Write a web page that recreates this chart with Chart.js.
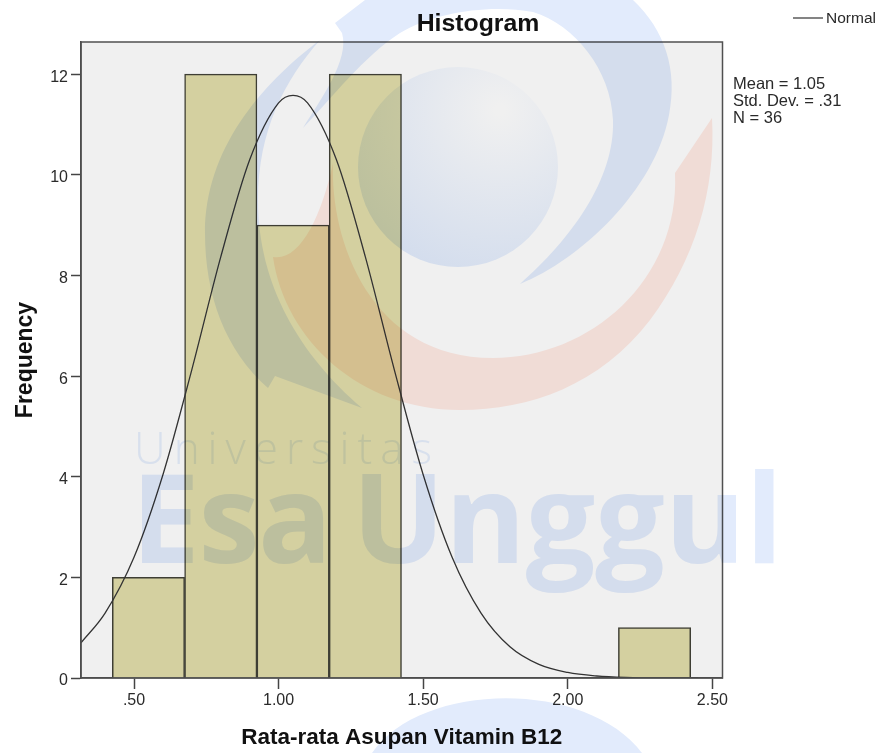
<!DOCTYPE html>
<html>
<head>
<meta charset="utf-8">
<style>
html, body { margin: 0; padding: 0; background: #fff; }
#wrap { width: 880px; height: 753px; }
</style>
<script src="https://cdn.jsdelivr.net/npm/chart.js@4"></script>
</head>
<body>
<div id="wrap"><canvas id="myChart" width="880" height="753"></canvas></div>
<script>
var binCenters = [0.55, 0.80, 1.05, 1.30, 2.30];
var binCounts = [2, 12, 9, 12, 1];
var curveX = [0.3167, 0.40, 0.50, 0.60, 0.70, 0.80, 0.90, 1.00, 1.05, 1.10, 1.20, 1.30, 1.40, 1.50, 1.60, 1.70, 1.80, 1.90, 2.00, 2.10, 2.20, 2.30, 2.45];
var curveY = [0.70, 1.29, 2.40, 4.04, 6.13, 8.37, 10.3, 11.43, 11.58, 11.43, 10.3, 8.37, 6.13, 4.04, 2.40, 1.29, 0.62, 0.27, 0.11, 0.04, 0.01, 0, 0];
var xTicks = [0.5, 1.0, 1.5, 2.0, 2.5];
var statLines = ['Mean = 1.05', 'Std. Dev. = .31', 'N = 36'];

var FONT = '"Liberation Sans", Arial, sans-serif';
var INK = '#2a2a2a';
var EDGE = '#3e3e34';

function pairs(xs, ys) {
    return xs.map(function (x, i) { return { x: x, y: ys[i] }; });
}

// plot background, frame, SPSS style legend and stats text
var spssFrame = {
    id: 'spssFrame',
    afterLayout: function (chart) {
        // title is centred on 478, not over the plot
        chart.titleBlock.left = 76;
        chart.titleBlock.right = 880;
    },
    beforeDraw: function (chart) {
        var a = chart.chartArea, c = chart.ctx;
        c.save();
        c.fillStyle = '#f0f0f0';
        c.fillRect(a.left, a.top, a.right - a.left, a.bottom - a.top);
        c.restore();
        // y labels sit a little under their ticks in the original
        if (!chart.$labelsMoved) {
            chart.scales.y.getLabelItems().forEach(function (item) {
                item.options.translation[1] += 3;
            });
            chart.$labelsMoved = true;
        }
    },
    afterDatasetsDraw: function (chart) {
        var a = chart.chartArea, c = chart.ctx;
        c.save();
        c.strokeStyle = '#505050';
        c.lineWidth = 1.5;
        c.strokeRect(a.left, a.top, a.right - a.left, a.bottom - a.top);
        c.fillStyle = INK;
        c.font = '16.5px ' + FONT;
        c.textBaseline = 'middle';
        statLines.forEach(function (s, i) {
            c.fillText(s, 733, 84 + i * 17);
        });
        c.strokeStyle = '#333';
        c.lineWidth = 1.2;
        c.beginPath();
        c.moveTo(793, 18);
        c.lineTo(823, 18);
        c.stroke();
        c.font = '15.5px ' + FONT;
        c.fillText('Normal', 826, 19);
        c.restore();
    }
};

// the university watermark laid over the whole page
var watermark = {
    id: 'watermark',
    afterDraw: function (chart) {
        var c = chart.ctx;
        c.save();
        c.globalCompositeOperation = 'multiply';

        // big blue sweep running off the top
        c.fillStyle = '#e2ebfc';
        c.beginPath();
        c.moveTo(335, 23);
        c.lineTo(365, 0);
        c.lineTo(633, 0);
        c.bezierCurveTo(665, 30, 678, 70, 669, 115);
        c.bezierCurveTo(655, 190, 580, 260, 520, 284);
        c.bezierCurveTo(570, 240, 615, 180, 613, 120);
        c.bezierCurveTo(611, 70, 575, 25, 533, 12);
        c.bezierCurveTo(490, 4, 435, 12, 400, 33);
        c.bezierCurveTo(365, 55, 330, 100, 303, 128);
        c.bezierCurveTo(320, 100, 350, 60, 342, 33);
        c.closePath();
        c.fill();

        // left crescent
        c.beginPath();
        c.moveTo(320, 40);
        c.bezierCurveTo(285, 80, 258, 130, 258, 200);
        c.bezierCurveTo(258, 285, 300, 355, 362, 408);
        c.lineTo(275, 376);
        c.lineTo(268, 388);
        c.bezierCurveTo(225, 350, 205, 295, 205, 233);
        c.bezierCurveTo(205, 150, 260, 85, 320, 40);
        c.closePath();
        c.fill();

        // sphere
        var g = c.createRadialGradient(500, 110, 5, 500, 110, 170);
        g.addColorStop(0, '#ffffff');
        g.addColorStop(1, '#e1ebfc');
        c.fillStyle = g;
        c.beginPath();
        c.arc(458, 167, 100, 0, Math.PI * 2);
        c.fill();

        // orange crescent
        c.fillStyle = '#ffeae4';
        c.beginPath();
        c.moveTo(712, 118);
        c.bezierCurveTo(716, 190, 695, 260, 650, 320);
        c.bezierCurveTo(600, 385, 530, 410, 460, 410);
        c.bezierCurveTo(360, 410, 285, 340, 273, 257);
        c.bezierCurveTo(300, 262, 322, 215, 333, 163);
        c.bezierCurveTo(330, 240, 370, 358, 493, 358);
        c.bezierCurveTo(590, 358, 680, 280, 675, 173);
        c.closePath();
        c.fill();

        // bottom blob
        c.fillStyle = '#e2ebfc';
        c.beginPath();
        c.moveTo(372, 753);
        c.bezierCurveTo(420, 682, 585, 678, 642, 753);
        c.closePath();
        c.fill();

        // wordmark
        c.textBaseline = 'alphabetic';
        c.fillStyle = '#e6eefc';
        c.font = '300 44px "Open Sans", sans-serif';
        c.letterSpacing = '8px';
        c.fillText('Universitas', 134, 464);
        c.fillStyle = '#e2ebfc';
        c.font = '700 123px "Open Sans", sans-serif';
        c.letterSpacing = '-1.5px';
        c.fillText('Esa', 131, 563);
        c.letterSpacing = '0px';
        c.fillText('Unggul', 352, 563);
        c.restore();
    }
};

var ctx = document.getElementById('myChart').getContext('2d');
var myChart = new Chart(ctx, {
    data: {
        datasets: [{
            type: 'line',
            label: 'Normal',
            data: pairs(curveX, curveY),
            borderColor: '#333',
            borderWidth: 1.3,
            pointRadius: 0,
            cubicInterpolationMode: 'monotone',
            order: 1
        }, {
            type: 'bar',
            label: 'Frequency',
            data: pairs(binCenters, binCounts),
            backgroundColor: '#d4d0a0',
            borderColor: EDGE,
            borderWidth: 1.5,
            barPercentage: 1,
            categoryPercentage: 1,
            grouped: false,
            order: 2
        }]
    },
    options: {
        responsive: false,
        animation: false,
        layout: {
            padding: { left: 0, right: 157.5, top: 0, bottom: 0 }
        },
        plugins: {
            legend: { display: false },
            tooltip: { enabled: false },
            title: {
                display: true,
                text: 'Histogram',
                color: '#111',
                font: { family: FONT, size: 24.8, weight: 'bold', lineHeight: 1 },
                padding: { top: 12, bottom: 5.2 }
            }
        },
        scales: {
            x: {
                type: 'linear',
                offset: false,
                min: 0.3167,
                max: 2.535,
                afterBuildTicks: function (axis) {
                    axis.ticks = xTicks.map(function (v) { return { value: v }; });
                },
                afterFit: function (axis) { axis.height = 75; },
                grid: { offset: false, drawOnChartArea: false, tickLength: 11, tickColor: '#444', tickWidth: 1.5 },
                border: { color: '#444', width: 1.5 },
                ticks: {
                    color: INK,
                    padding: 2,
                    maxRotation: 0,
                    autoSkip: false,
                    font: { family: FONT, size: 16 },
                    callback: function (v) {
                        return v < 1 ? v.toFixed(2).slice(1) : v.toFixed(2);
                    }
                },
                title: {
                    display: true,
                    text: 'Rata-rata Asupan Vitamin B12',
                    color: '#111',
                    font: { family: FONT, size: 22.5, weight: 'bold' },
                    padding: { top: 0, bottom: 1.5 }
                }
            },
            y: {
                min: 0,
                max: 12.64,
                afterFit: function (axis) { axis.width = 81; },
                grid: { drawOnChartArea: false, tickLength: 10, tickColor: '#444', tickWidth: 1.5 },
                border: { color: '#444', width: 1.5 },
                ticks: {
                    stepSize: 2,
                    includeBounds: false,
                    color: INK,
                    padding: 3,
                    font: { family: FONT, size: 16 }
                },
                title: {
                    display: true,
                    text: 'Frequency',
                    color: '#111',
                    font: { family: FONT, size: 23, weight: 'bold' },
                    padding: { top: 12, bottom: 0 }
                }
            }
        }
    },
    plugins: [spssFrame, watermark]
});
</script>
</body>
</html>
